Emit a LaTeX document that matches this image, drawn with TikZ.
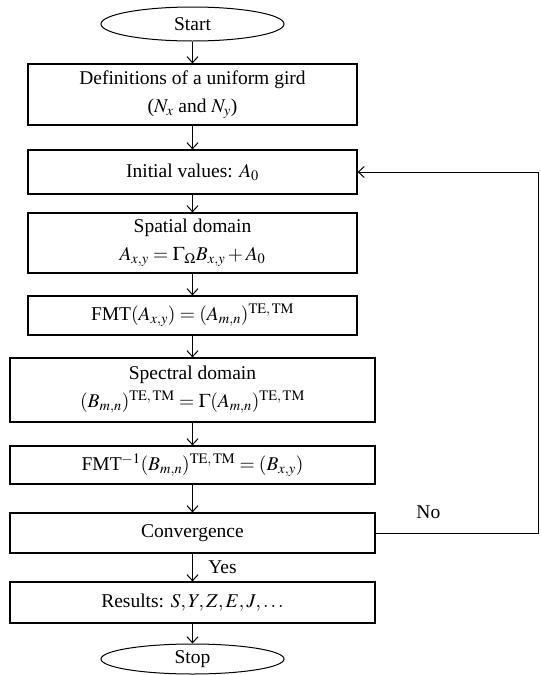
\documentclass[tikz,border=0pt]{standalone}
\usepackage{mathptmx}
\usepackage[no-math]{fontspec}
\setmainfont{Liberation Serif}
\usepackage{tikz}
\usetikzlibrary{arrows.meta,shapes.geometric}

\tikzset{
  block/.style={draw=black,line width=1.2pt,minimum width=329pt,inner sep=2pt,align=center},
  wideblock/.style={block,minimum width=365pt},
  terminal/.style={draw=black,line width=1pt,ellipse,minimum width=183pt,inner sep=0pt},
  flow/.style={black,line width=1pt,-{Straight Barb[length=6pt,width=11pt]}}
}

\begin{document}
\begin{tikzpicture}[x=1pt,y=-1pt,font=\fontsize{19.5}{28}\selectfont]
      \useasboundingbox (0,0) rectangle (541,675);

      % start and grid
      \node[terminal,minimum height=34pt] (start) at (192.5,24) {Start};
      \node[block,minimum height=61pt] (grid) at (192.5,94.5) {Definitions of a uniform gird\\($N_x$ and $N_y$)};
      \draw[flow] (start) -- (grid);

      % initial values and spatial domain
      \node[block,minimum height=44pt] (init) at (192.5,172) {Initial values: $A_0$};
      \node[block,minimum height=60pt] (spatial) at (192.5,243) {Spatial domain\\$A_{x,y} = \Gamma_\Omega B_{x,y} + A_0$};
      \draw[flow] (grid) -- (init);
      \draw[flow] (init) -- (spatial);

      % forward transform
      \node[block,minimum height=39pt] (fmt) at (192.5,315.5) {FMT$(A_{x,y}) = (A_{m,n})^{\mathrm{TE,\,TM}}$};
      \draw[flow] (spatial) -- (fmt);

      % spectral domain and inverse transform
      \node[wideblock,minimum height=64pt] (spectral) at (192.5,390) {Spectral domain\\$(B_{m,n})^{\mathrm{TE,\,TM}} = \Gamma(A_{m,n})^{\mathrm{TE,\,TM}}$};
      \node[wideblock,minimum height=38pt] (ifmt) at (192.5,465) {FMT$^{-1}(B_{m,n})^{\mathrm{TE,\,TM}} = (B_{x,y})$};
      \draw[flow] (fmt) -- (spectral);
      \draw[flow] (spectral) -- (ifmt);

      % convergence test
      \node[wideblock,minimum height=40pt] (conv) at (192.5,533) {Convergence};
      \draw[flow] (ifmt) -- (conv);
      \coordinate (back) at (538,533);
      \draw[flow] (conv.east) -- node[above=10pt,pos=0.325] {No} (back) |- (init.east);

      % results and stop
      \node[wideblock,minimum height=41pt] (res) at (192.5,602.5) {Results: $S, Y, Z, E, J, \ldots$};
      \node[terminal,minimum height=30pt] (stop) at (192.5,659) {Stop};
      \draw[flow] (conv) -- node[right=12pt] {Yes} (res);
      \draw[flow] (res) -- (stop);

\end{tikzpicture}
\end{document}
